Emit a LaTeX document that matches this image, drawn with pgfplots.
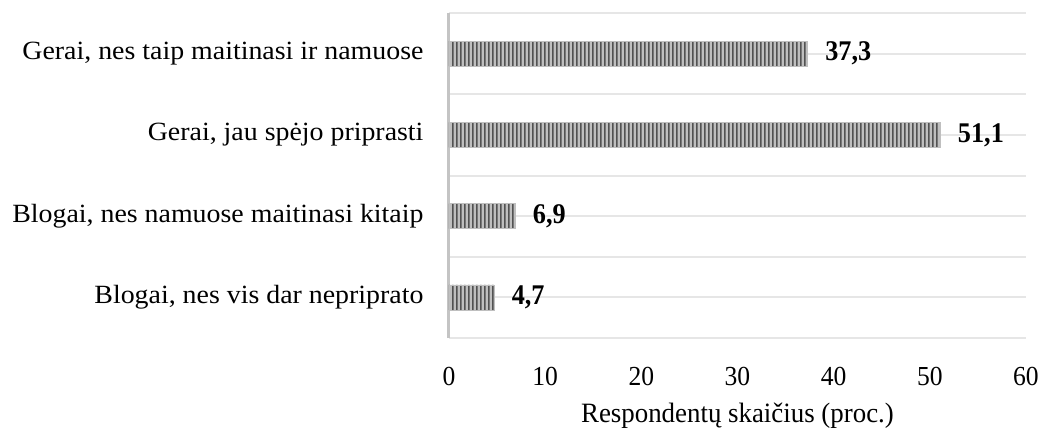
\documentclass[border=0pt]{standalone}
\usepackage{pgfplots}
\pgfplotsset{compat=1.18}
\usepackage{fontspec}
\setmainfont{Liberation Serif}
\newfontfamily\catfont[FakeStretch=1.06]{Liberation Serif}
\newfontfamily\tickfont[FakeStretch=0.93]{Liberation Serif}
\newfontfamily\titlefont[FakeStretch=0.96]{Liberation Serif}
\newfontfamily\lblfont[FakeStretch=0.92]{Liberation Serif}
\usetikzlibrary{patterns.meta}
\tikzdeclarepattern{name=vstripes, type=uncolored,
  bottom left={(0pt,0pt)}, top right={(4pt,40pt)}, tile size={(4pt,40pt)},
  code={\fill (0pt,0pt) rectangle (2pt,40pt);}}
\definecolor{gridc}{HTML}{E6E6E6}
\definecolor{axc}{HTML}{C4C4C4}
\begin{document}
\begin{tikzpicture}
\begin{axis}[
  scale only axis,
  width=577pt, height=325pt,
  xbar, bar width=25pt,
  xmin=0, xmax=60,
  ymin=-0.5, ymax=3.5,
  xtick={0,10,...,60},
  ytick={-0.5,0,0.5,1,1.5,2,2.5,3,3.5},
  yticklabels={{},{Blogai, nes vis dar nepriprato},{},{Blogai, nes namuose maitinasi kitaip},{},{Gerai, jau spėjo priprasti},{},{Gerai, nes taip maitinasi ir namuose},{}},
  major tick length=0pt,
  ymajorgrids,
  grid style={draw=gridc, line width=2pt},
  axis x line*=bottom,
  axis y line*=left,
  x axis line style={draw=none},
  y axis line style={draw=axc, line width=3pt, -},
  /pgf/number format/assume math mode=true,
  xticklabel style={font=\tickfont\fontsize{27.5}{30}\selectfont, yshift=-26pt},
  yticklabel style={font=\catfont\fontsize{26.3}{30}\selectfont, xshift=-22pt},
  xlabel={Respondentų skaičius (proc.)},
  xlabel style={font=\titlefont\fontsize{28}{30}\selectfont, yshift=-10pt},
  nodes near coords,
  point meta=x,
  nodes near coords style={font=\lblfont\bfseries\fontsize{28.5}{30}\selectfont, anchor=west, xshift=14pt,
     /pgf/number format/.cd, fixed, precision=1, fixed zerofill, use comma, assume math mode=true},
  clip=false,
]
\addplot[draw=gray!50, line width=0.5pt, fill=gray!50, postaction={pattern=vstripes, pattern color=black!68}]
  coordinates {(4.7,0) (6.9,1) (51.1,2) (37.3,3)};
\coordinate (sw) at (axis cs:0,-0.5);
\end{axis}
\path (sw) ++(-449pt,-87pt) rectangle ++(1046pt,425pt);
\end{tikzpicture}
\end{document}
